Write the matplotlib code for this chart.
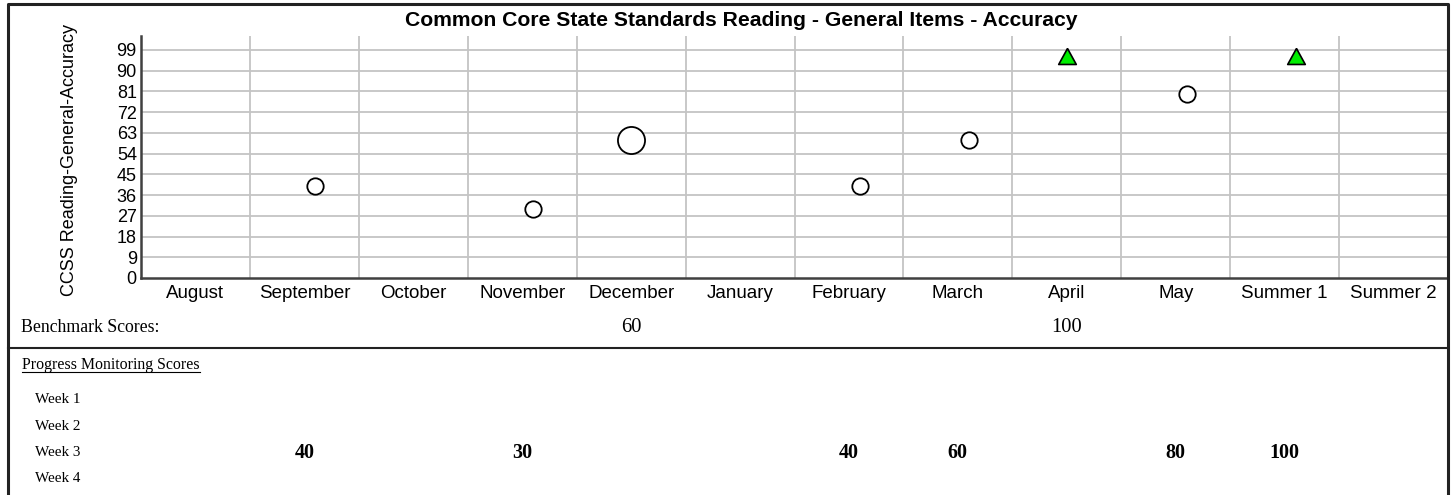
import matplotlib
matplotlib.use("Agg")
import matplotlib.pyplot as plt
import matplotlib.transforms as mtransforms
from matplotlib.lines import Line2D
import numpy as np

months = ["August", "September", "October", "November", "December", "January",
          "February", "March", "April", "May", "Summer 1", "Summer 2"]
yticks = [0, 9, 18, 27, 36, 45, 54, 63, 72, 81, 90, 99]
weeks = ["Week 1", "Week 2", "Week 3", "Week 4"]

# Benchmark scores (month index, score)
bench_month = [4, 8]
bench_score = [60, 100]

# Progress monitoring scores (month index, week, score)
pm_month = [1, 3, 6, 7, 9, 10]
pm_week = [3, 3, 3, 3, 3, 3]
pm_score = [40, 30, 40, 60, 80, 100]

W, H = 1454, 495
fig = plt.figure(figsize=(W / 100, H / 100), dpi=100)
plt.rcParams['font.family'] = ['Liberation Sans', 'DejaVu Sans']
serif = ['Liberation Serif', 'DejaVu Serif']

ax = fig.add_axes([141 / W, 1 - 278 / H, (1448 - 141) / W, (278 - 36) / H])
ax.set_xlim(0, 12)
ax.set_ylim(0, 105)

# grid
for i in range(1, 12):
    ax.axvline(i, color='#c4c4c4', lw=1.3, zorder=0)
for t in yticks[1:]:
    ax.axhline(t, color='#c4c4c4', lw=1.3, zorder=0)

ax.set_yticks(yticks)
ax.set_yticklabels([str(t) for t in yticks], fontsize=13)
ax.set_xticks(np.arange(12) + 0.5)
ax.set_xticklabels(months, fontsize=13.5)
ax.tick_params(axis='x', length=0, pad=5)
ax.tick_params(axis='y', length=0, pad=3)
for s in ['top', 'right']:
    ax.spines[s].set_visible(False)
for s in ['left', 'bottom']:
    ax.spines[s].set_color('#404040')
    ax.spines[s].set_linewidth(1.8)
ax.set_ylabel("CCSS Reading-General-Accuracy", fontsize=13)
ax.yaxis.set_label_coords(-63 / 1307, 0.486)

# triangle marker with apex at the data point
tri = [(0, 0), (-0.55, -1.0), (0.55, -1.0), (0, 0)]

def draw_point(x, v, big):
    if v >= 100:
        ax.plot([x], [v], marker=tri, ms=23, mfc='#00ee00', mec='black', mew=1.2,
                ls='none', clip_on=False, zorder=5)
    else:
        ax.plot([x], [v], marker='o', ms=19.5 if big else 11.8, mfc='white',
                mec='black', mew=1.3, ls='none', clip_on=False, zorder=5)

for m, s in zip(bench_month, bench_score):
    draw_point(m + 0.5, s, True)
for m, w, s in zip(pm_month, pm_week, pm_score):
    draw_point(m + w / 5.0, s, False)

fig.text(741 / W, 1 - 21 / H,
         "Common Core State Standards Reading - General Items - Accuracy",
         fontsize=15.2, fontweight='bold', ha='center', va='center')

# lower section
trans = mtransforms.blended_transform_factory(ax.transData, fig.transFigure)
fig.text(21 / W, 1 - 327 / H, "Benchmark Scores:", family=serif, fontsize=12.8,
         va='center', ha='left')
for m, s in zip(bench_month, bench_score):
    fig.text(m + 0.5, 1 - 327 / H, str(s), family=serif, fontsize=14.8,
             va='center', ha='center', transform=trans)

fig.add_artist(Line2D([8 / W, 1448 / W], [1 - 348 / H, 1 - 348 / H],
                      color='#222222', lw=1.5, transform=fig.transFigure))

fig.text(22 / W, 1 - 365 / H, "Progress Monitoring Scores", family=serif,
         fontsize=11.4, va='center', ha='left')
fig.add_artist(Line2D([22 / W, 200 / W], [1 - 372 / H, 1 - 372 / H],
                      color='black', lw=0.8, transform=fig.transFigure))

week_y = [399.5, 426, 452.5, 479]
for wl, yy in zip(weeks, week_y):
    fig.text(35 / W, 1 - yy / H, wl, family=serif, fontsize=10.9, va='center', ha='left')

for m, w, s in zip(pm_month, pm_week, pm_score):
    fig.text(m + 0.5, 1 - week_y[w - 1] / H, str(s), family=serif, fontsize=14.5,
             fontweight='bold', va='center', ha='center', transform=trans)

# outer border
fig.add_artist(Line2D([8 / W, 8 / W, 1448 / W, 1448 / W],
                      [0, 1 - 4 / H, 1 - 4 / H, 0],
                      color='#222222', lw=2.2, transform=fig.transFigure))

fig.savefig("out.png", dpi=100)
